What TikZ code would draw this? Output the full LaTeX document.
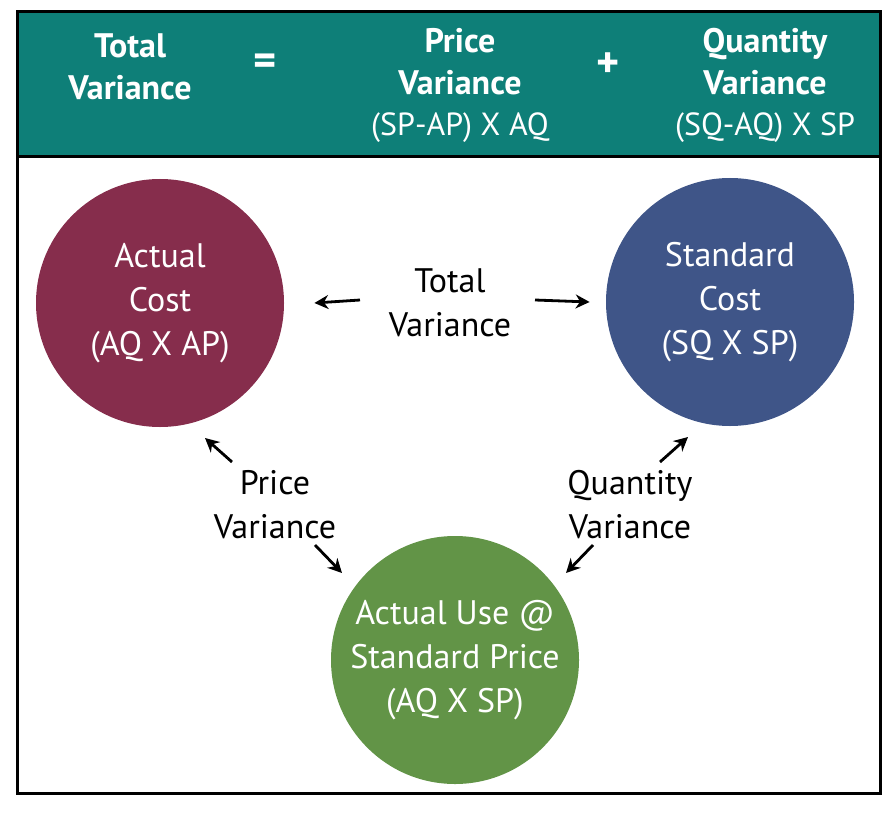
\documentclass[tikz,border=0pt]{standalone}
\usepackage{fontspec}
\setmainfont{PT Sans}
\usetikzlibrary{arrows.meta}
\definecolor{headteal}{HTML}{0E7F78}
\definecolor{costred}{HTML}{862D4C}
\definecolor{stdblue}{HTML}{3F5588}
\definecolor{usegreen}{HTML}{629447}
\tikzset{
   headtext/.style={text=white,font=\fontsize{17}{21}\selectfont\bfseries,align=center},
   subtext/.style={text=white,font=\fontsize{16}{18}\selectfont,align=center},
   bubble/.style={circle,minimum size=124pt,inner sep=0pt,text=white,align=center,font=\fontsize{17}{22}\selectfont},
   lbl/.style={align=center,font=\fontsize{17}{22}\selectfont},
   varrow/.style={-{Stealth[length=7pt,width=7pt]},line width=1.4pt}}
\begin{document}
\begin{tikzpicture}[x=0.5pt,y=-0.5pt]
\useasboundingbox (0,0) rectangle (892,818);
% header band
\fill[headteal] (17,12) rectangle (880,157);
\draw[line width=1.5pt] (17,12) rectangle (880,793);
\draw[line width=1.5pt] (17,157) -- (880,157);
\node[headtext] (total) at (130,67) {Total\\Variance};
\node[headtext,font=\fontsize{22}{22}\selectfont\bfseries] (eq) at (265,65) {=};
\node[headtext] (price) at (460,62) {Price\\Variance};
\node[subtext] (pform) at (460,128) {(SP-AP) X AQ};
\node[headtext,font=\fontsize{22}{22}\selectfont\bfseries] (plus) at (608,65) {+};
\node[headtext] (qty) at (765,62) {Quantity\\Variance};
\node[subtext] (qform) at (765,128) {(SQ-AQ) X SP};
% circles
\node[bubble,fill=costred] (actual) at (160,303) {Actual\\Cost\\(AQ X AP)};
\node[bubble,fill=stdblue] (standard) at (730,302) {Standard\\Cost\\(SQ X SP)};
\node[bubble,fill=usegreen] (use) at (455,660) {Actual Use @\\Standard Price\\(AQ X SP)};
% labels
\node[lbl] (tv) at (450,303) {Total\\Variance};
\node[lbl] (pv) at (275,505) {Price\\Variance};
\node[lbl] (qv) at (630,505) {Quantity\\Variance};
% arrows
\draw[varrow] (360,300) -- ([xshift=15]actual.east);
\draw[varrow] (535,300) -- ([xshift=-8]standard.west);
\draw[varrow] (232,462) -- (205,438);
\draw[varrow] (315,545) -- (342,573);
\draw[varrow] (593,545) -- (566,573);
\draw[varrow] (660,462) -- (688,437);
\end{tikzpicture}
\end{document}
